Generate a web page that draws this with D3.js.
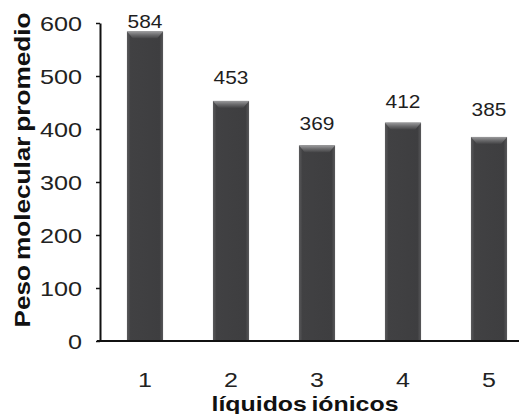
<!DOCTYPE html>
<html><head><meta charset="utf-8">
<script src="https://cdn.jsdelivr.net/npm/d3@7"></script>
<style>body{margin:0;background:#fff}svg{display:block}</style>
</head><body>
<script>
const categories = ["1","2","3","4","5"];
const values = [584, 453, 369, 412, 385];
const yTicks = [0,100,200,300,400,500,600];
// per-label vertical gap above bar top (layout only)
const labelGap = [3, 17, 15, 15, 21];

const W = 519, H = 414;
const FONT = "Liberation Sans, Arial, sans-serif";
const svg = d3.select("body").append("svg").attr("width", W).attr("height", H);
const defs = svg.append("defs");
const g1 = defs.append("linearGradient").attr("id","barg").attr("x1","0").attr("x2","1");
[[0,"#5a5a5c"],[0.1,"#414143"],[0.9,"#3e3e40"],[1,"#58585a"]].forEach(s=>g1.append("stop").attr("offset",s[0]).attr("stop-color",s[1]));
const g2 = defs.append("linearGradient").attr("id","topg").attr("x1","0").attr("x2","0").attr("y1","0").attr("y2","1");
[[0,"#9a9a9c"],[0.5,"#6a6a6c"],[1,"#434345"]].forEach(s=>g2.append("stop").attr("offset",s[0]).attr("stop-color",s[1]));

function stretch(sel, f){
  sel.each(function(){ const L=this.getComputedTextLength(); d3.select(this).attr("textLength",L*f).attr("lengthAdjust","spacingAndGlyphs"); });
}

const x = d3.scaleBand().domain(categories).range([102, 532]).paddingInner(0.58).paddingOuter(0.29);
const y = d3.scaleLinear().domain([0, 600]).range([341, 23]);

// bars
const bars = svg.append("g").selectAll("g").data(values).join("g");
bars.append("rect")
  .attr("x",(d,i)=>x(categories[i])).attr("y",d=>y(d))
  .attr("width",x.bandwidth()).attr("height",d=>y(0)-y(d))
  .attr("fill","url(#barg)");
bars.append("path")
  .attr("d",(d,i)=>{const x0=x(categories[i]), w=x.bandwidth(), t=y(d);
    return `M${x0},${t}L${x0+w},${t}L${x0+w-6},${t+7}L${x0+6},${t+7}Z`;})
  .attr("fill","url(#topg)");

// value labels
const vl = svg.append("g").selectAll("text").data(values).join("text")
  .attr("x",(d,i)=>x(categories[i])+x.bandwidth()/2)
  .attr("y",(d,i)=>y(d)-labelGap[i])
  .attr("text-anchor","middle")
  .attr("font-family",FONT)
  .attr("font-size",19).attr("fill","#1e1e1e")
  .text(d=>d);
stretch(vl, 1.1);

// y axis
const ya = svg.append("g").attr("transform","translate(100,0)")
  .call(d3.axisLeft(y).tickValues(yTicks).tickSize(4).tickPadding(6).tickSizeOuter(0));
ya.select(".domain").attr("stroke","#111").attr("stroke-width",2);
ya.selectAll(".tick line").attr("stroke","#111").attr("stroke-width",1.5);
ya.selectAll("text").attr("font-family",FONT).attr("font-size",21).attr("fill","#222").attr("x",-18).attr("dy","0.36em");
stretch(ya.selectAll("text"), 1.2);

// x axis
const xa = svg.append("g").attr("transform","translate(0,341)")
  .call(d3.axisBottom(x).tickSize(0).tickPadding(0));
xa.select(".domain").attr("d","M97,0H519").attr("stroke","#111").attr("stroke-width",2);
xa.selectAll("text").attr("font-family",FONT).attr("font-size",20).attr("fill","#222").attr("y",46).attr("dy",0);
stretch(xa.selectAll("text"), 1.25);

// titles
svg.append("text").attr("x",305).attr("y",411).attr("text-anchor","middle")
  .attr("font-family",FONT).attr("font-weight","bold")
  .attr("font-size",21).attr("fill","#111").attr("word-spacing",-2).text("líquidos iónicos")
  .attr("textLength",187).attr("lengthAdjust","spacingAndGlyphs");
svg.append("text").attr("transform","translate(30,170) rotate(-90)").attr("text-anchor","middle")
  .attr("font-family",FONT).attr("font-weight","bold")
  .attr("font-size",22).attr("fill","#111").attr("word-spacing",-2).text("Peso molecular promedio")
  .attr("textLength",315).attr("lengthAdjust","spacingAndGlyphs");
</script>
</body></html>
